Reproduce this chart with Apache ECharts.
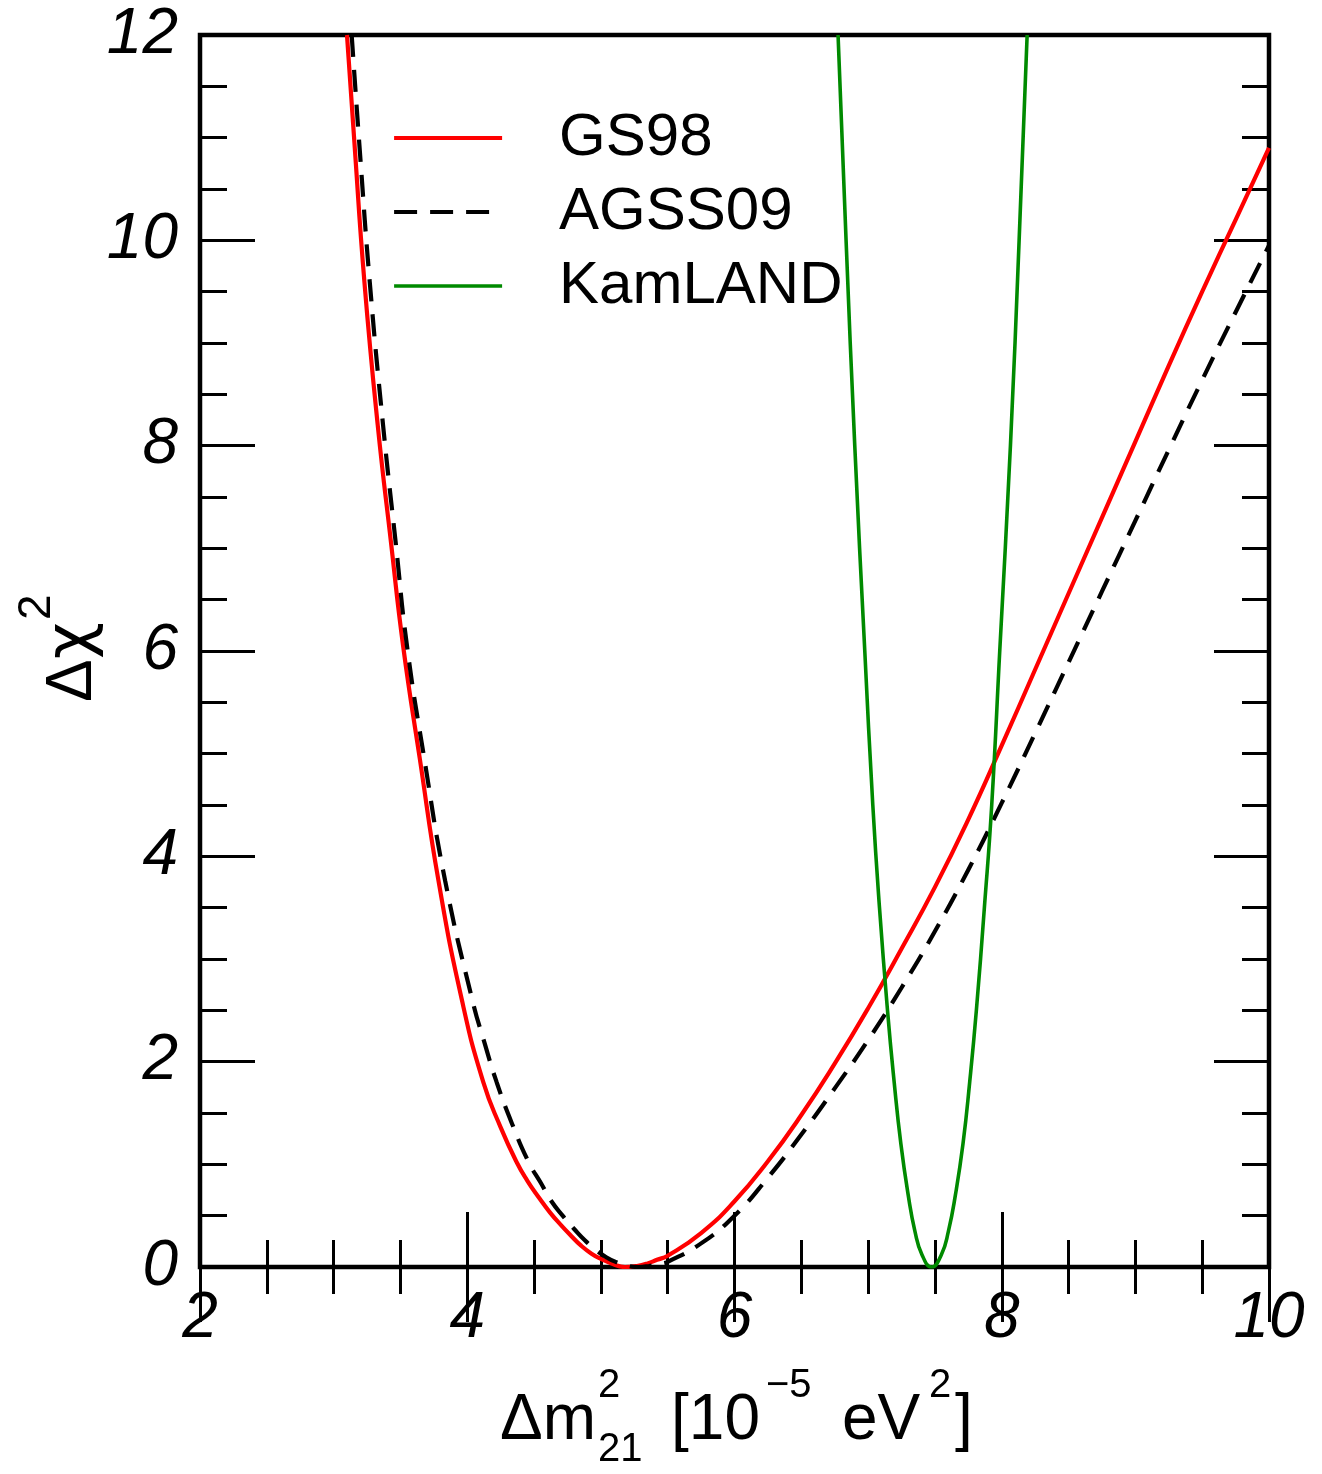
<!DOCTYPE html>
<html><head><meta charset="utf-8">
<script src="https://cdn.jsdelivr.net/npm/echarts@6/dist/echarts.min.js"></script>
<style>html,body{margin:0;padding:0;background:#fff}#c{width:1322px;height:1474px}</style>
</head><body><div id="c"></div>
<script>
// ---- data ----
const seriesNames = ['GS98', 'AGSS09', 'KamLAND'];
const xRange = [2, 10];
const yRange = [0, 12];
const xTickStep = 2;
const yTickStep = 2;

const gs98 = [
  [3.10, 12.0], [3.153, 11.0], [3.23, 9.6], [3.33, 8.2], [3.43, 7.05], [3.52, 6.05],
  [3.645, 4.95], [3.785, 3.76], [3.96, 2.6], [4.12, 1.8], [4.25, 1.36], [4.37, 1.02],
  [4.45, 0.84], [4.54, 0.67], [4.62, 0.53], [4.70, 0.41], [4.78, 0.30], [4.85, 0.21],
  [4.93, 0.13], [5.0, 0.08], [5.09, 0.03], [5.18, 0.0], [5.27, 0.01], [5.35, 0.035],
  [5.42, 0.07], [5.5, 0.11], [5.75, 0.33], [6.0, 0.64], [6.25, 1.03], [6.5, 1.48],
  [6.75, 1.98], [7.0, 2.52], [7.25, 3.1], [7.5, 3.7], [7.75, 4.36], [8.0, 5.08],
  [8.25, 5.82], [8.5, 6.56], [8.75, 7.3], [9.0, 8.04], [9.25, 8.78], [9.5, 9.5],
  [9.75, 10.2], [10.0, 10.9]
];
const agss09 = [
  [3.135, 12.0], [3.20, 10.8], [3.27, 9.6], [3.37, 8.2], [3.465, 7.05], [3.55, 6.04],
  [3.68, 4.94], [3.835, 3.76], [4.04, 2.59], [4.13, 2.18], [4.22, 1.80], [4.34, 1.38],
  [4.46, 1.02], [4.55, 0.82], [4.63, 0.64], [4.72, 0.49], [4.80, 0.37], [4.88, 0.26],
  [4.96, 0.17], [5.04, 0.095], [5.12, 0.045], [5.20, 0.012], [5.28, 0.0], [5.36, 0.01],
  [5.44, 0.03], [5.5, 0.05], [5.75, 0.23], [6.0, 0.5], [6.25, 0.87], [6.5, 1.29],
  [6.75, 1.74], [7.0, 2.21], [7.25, 2.72], [7.5, 3.27], [7.75, 3.87], [8.0, 4.52],
  [8.25, 5.2], [8.5, 5.89], [8.75, 6.58], [9.0, 7.27], [9.25, 7.96], [9.5, 8.64],
  [9.75, 9.3], [10.0, 9.95]
];
const kamland = [
  [6.775, 12.0], [6.835, 10.0], [6.90, 8.0], [6.975, 6.0], [7.035, 4.5], [7.085, 3.5],
  [7.145, 2.5], [7.195, 1.8], [7.245, 1.2], [7.30, 0.7], [7.35, 0.35], [7.403, 0.12],
  [7.475, 0.0], [7.548, 0.12], [7.601, 0.35], [7.653, 0.7], [7.71, 1.2], [7.76, 1.8],
  [7.81, 2.5], [7.87, 3.5], [7.925, 4.5], [7.985, 6.0], [8.065, 8.0], [8.13, 10.0],
  [8.19, 12.0]
];
const seriesColors = ['#ff0000', '#000000', '#008a00'];

// ---- chart ----
const FONT = '"Liberation Sans", Arial, Helvetica, sans-serif';
const chart = echarts.init(document.getElementById('c'), null, {renderer: 'canvas'});

function valueAxis(pos, range, step, showLabel, isX) {
  return {
    type: 'value', position: pos, min: range[0], max: range[1], interval: step,
    axisLine: {show: false},
    axisTick: {show: true, inside: true, length: 55, lineStyle: {color: '#000', width: 3}},
    minorTick: {show: true, splitNumber: 4, length: 27, lineStyle: {color: '#000', width: 3}},
    splitLine: {show: false}, minorSplitLine: {show: false},
    axisLabel: {
      show: showLabel, margin: isX ? 20 : 22, color: '#000', fontSize: 64,
      fontStyle: 'italic', fontFamily: FONT, showMinLabel: true, showMaxLabel: true
    }
  };
}

function txt(x, y, text, size, family, extra) {
  return Object.assign({
    type: 'text', x: x, y: y, silent: true,
    style: {
      text: text, fill: '#000', font: 'normal ' + size + 'px ' + (family || FONT),
      textAlign: 'left', align: 'left', textVerticalAlign: 'middle', verticalAlign: 'middle'
    }
  }, extra || {});
}

const lineWidths = [4.2, 4.2, 3.6];
const dashPattern = [22, 13];

const option = {
  animation: false,
  backgroundColor: '#fff',
  grid: {left: 200, top: 35, right: 53, bottom: 207, show: true,
         borderColor: '#000', borderWidth: 4.5, backgroundColor: 'transparent', containLabel: false},
  xAxis: [valueAxis('bottom', xRange, xTickStep, true, true),
          valueAxis('top', xRange, xTickStep, false, true)],
  yAxis: [valueAxis('left', yRange, yTickStep, true, false),
          valueAxis('right', yRange, yTickStep, false, false)],
  legend: {
    show: true, orient: 'vertical', left: 392, top: 108, padding: 0,
    itemWidth: 108, itemHeight: 30, itemGap: 14,
    data: [
      {name: seriesNames[0], lineStyle: {width: lineWidths[0], color: seriesColors[0], type: 'solid'}},
      {name: seriesNames[1], lineStyle: {width: lineWidths[1], color: seriesColors[1], type: [23, 13]}},
      {name: seriesNames[2], lineStyle: {width: lineWidths[2], color: seriesColors[2], type: 'solid'}}
    ],
    itemStyle: {opacity: 0},
    textStyle: {fontSize: 60, fontFamily: FONT, color: '#000', lineHeight: 60, padding: [0, 0, 0, 52]}
  },
  series: [
    {name: seriesNames[0], type: 'line', data: gs98, showSymbol: false, symbol: 'none',
     smooth: 0.5, clip: true, z: 3,
     lineStyle: {color: seriesColors[0], width: lineWidths[0]}, itemStyle: {color: seriesColors[0]}},
    {name: seriesNames[1], type: 'line', data: agss09, showSymbol: false, symbol: 'none',
     smooth: 0.5, clip: true, z: 4,
     lineStyle: {color: seriesColors[1], width: lineWidths[1], type: dashPattern}, itemStyle: {color: seriesColors[1]}},
    {name: seriesNames[2], type: 'line', data: kamland, showSymbol: false, symbol: 'none',
     smooth: 0.5, clip: true, z: 5,
     lineStyle: {color: seriesColors[2], width: lineWidths[2]}, itemStyle: {color: seriesColors[2]}}
  ],
  graphic: [
    // x axis title: Δm^2_21 [10^-5 eV^2]
    txt(500, 1421, 'Δm', 64),
    txt(598, 1386, '2', 40),
    txt(598, 1450, '21', 40),
    txt(671, 1421, '[10', 64),
    txt(766, 1386, '−5', 40),
    txt(842, 1421, 'eV', 64),
    txt(929, 1386, '2', 40),
    txt(955, 1421, ']', 64),
    // y axis title: Δχ^2 (rotated)
    {type: 'group', x: 95, y: 702, rotation: Math.PI / 2, silent: true, children: [
      txt(0, -22, 'Δ', 64),
      txt(43, -22, 'χ', 64, '"DejaVu Sans", sans-serif'),
      txt(82, -58, '2', 46)
    ]}
  ]
};
chart.setOption(option);
</script>
</body></html>
